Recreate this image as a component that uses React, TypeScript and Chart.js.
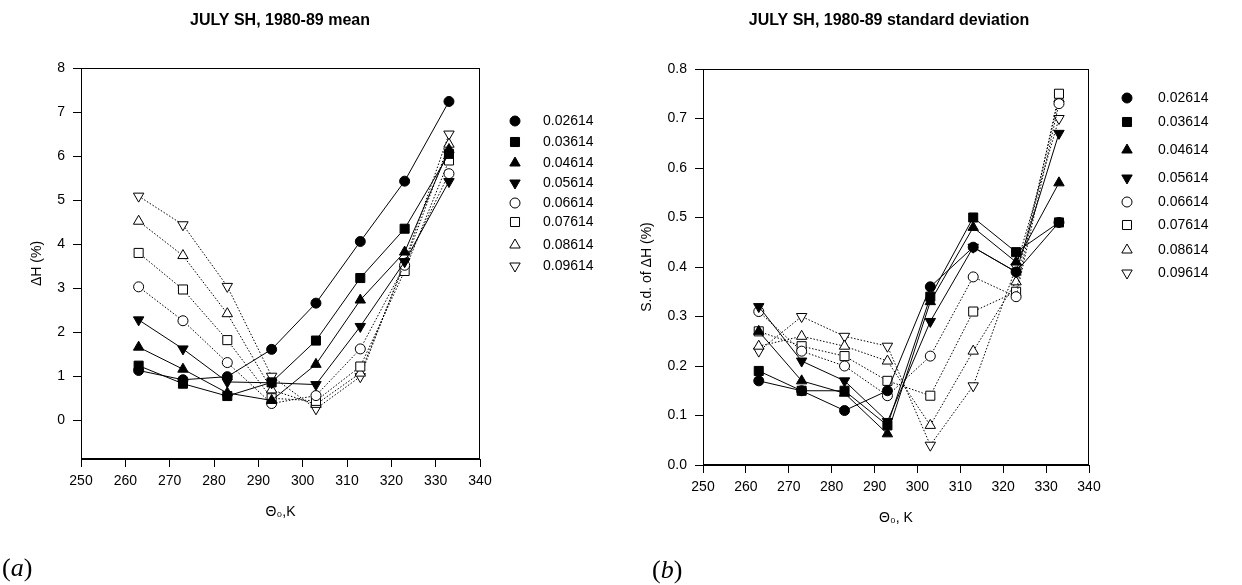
import React, { useEffect, useRef } from 'react';
import { Chart, registerables } from 'chart.js';
Chart.register(...registerables);

const FONT = '"Liberation Sans", Arial, Helvetica, sans-serif';

// ---------- data ----------
const thetaK = [263, 273, 283, 293, 303, 313, 323, 333];
const seriesLabels = ['0.02614', '0.03614', '0.04614', '0.05614', '0.06614', '0.07614', '0.08614', '0.09614'];

// (a) mean ΔH (%)
const mean02614 = [1.13, 0.92, 0.99, 1.61, 2.66, 4.06, 5.43, 7.24];
const mean03614 = [1.24, 0.83, 0.55, 0.86, 1.81, 3.23, 4.35, 6.05];
const mean04614 = [1.66, 1.16, 0.62, 0.45, 1.27, 2.73, 3.82, 6.15];
const mean05614 = [2.28, 1.62, 0.87, 0.85, 0.81, 2.13, 3.6, 5.42];
const mean06614 = [3.03, 2.26, 1.31, 0.38, 0.56, 1.62, 3.52, 5.6];
const mean07614 = [3.8, 2.97, 1.82, 0.5, 0.44, 1.22, 3.39, 5.9];
const mean08614 = [4.52, 3.74, 2.42, 0.69, 0.36, 1.07, 3.55, 6.27];
const mean09614 = [5.09, 4.44, 3.04, 1.0, 0.26, 0.99, 3.6, 6.5];

// (b) standard deviation of ΔH (%)
const sd02614 = [0.17, 0.15, 0.11, 0.15, 0.36, 0.44, 0.39, 0.49];
const sd03614 = [0.19, 0.15, 0.15, 0.08, 0.34, 0.5, 0.43, 0.49];
const sd04614 = [0.27, 0.17, 0.145, 0.063, 0.33, 0.48, 0.41, 0.57];
const sd05614 = [0.32, 0.21, 0.17, 0.088, 0.29, 0.44, 0.39, 0.67];
const sd06614 = [0.31, 0.23, 0.2, 0.14, 0.22, 0.38, 0.34, 0.73];
const sd07614 = [0.27, 0.24, 0.22, 0.17, 0.14, 0.31, 0.35, 0.75];
const sd08614 = [0.24, 0.26, 0.24, 0.21, 0.08, 0.23, 0.37, 0.74];
const sd09614 = [0.23, 0.3, 0.26, 0.24, 0.04, 0.16, 0.4, 0.7];

const meanSeries = [mean02614, mean03614, mean04614, mean05614, mean06614, mean07614, mean08614, mean09614];
const sdSeries = [sd02614, sd03614, sd04614, sd05614, sd06614, sd07614, sd08614, sd09614];

const xTicksMin = 250;
const xTicksMax = 340;

// ---------- styles ----------
type MarkerStyle = { shape: 'circle' | 'rect' | 'triangle'; rotation: number; radius: number; filled: boolean };
const markerStyles: MarkerStyle[] = [
  { shape: 'circle', rotation: 0, radius: 5, filled: true },
  { shape: 'rect', rotation: 0, radius: 6.4, filled: true },
  { shape: 'triangle', rotation: 0, radius: 6, filled: true },
  { shape: 'triangle', rotation: 180, radius: 6, filled: true },
  { shape: 'circle', rotation: 0, radius: 5, filled: false },
  { shape: 'rect', rotation: 0, radius: 6.4, filled: false },
  { shape: 'triangle', rotation: 0, radius: 6, filled: false },
  { shape: 'triangle', rotation: 180, radius: 6, filled: false },
];

function drawMarker(ctx: CanvasRenderingContext2D, st: MarkerStyle, x: number, y: number) {
  const r = st.radius;
  ctx.beginPath();
  if (st.shape === 'circle') {
    ctx.arc(x, y, r, 0, Math.PI * 2);
  } else if (st.shape === 'rect') {
    const s = r * Math.SQRT1_2;
    ctx.rect(x - s, y - s, 2 * s, 2 * s);
  } else {
    let rad = (st.rotation * Math.PI) / 180;
    for (let k = 0; k < 3; k++) {
      const px = x + Math.sin(rad) * r;
      const py = y - Math.cos(rad) * r;
      if (k === 0) ctx.moveTo(px, py);
      else ctx.lineTo(px, py);
      rad += (2 * Math.PI) / 3;
    }
    ctx.closePath();
  }
  ctx.fillStyle = st.filled ? '#000' : '#fff';
  ctx.fill();
  ctx.strokeStyle = '#000';
  ctx.lineWidth = 1;
  ctx.stroke();
}

function makeDatasets(values: number[][]) {
  return values.map((vals, i) => {
    const st = markerStyles[i];
    return {
      label: seriesLabels[i],
      data: thetaK.map((x, j) => ({ x, y: vals[j] })),
      borderColor: '#000',
      borderWidth: 1,
      borderDash: st.filled ? [] : [1.5, 1.8],
      pointStyle: st.shape,
      pointRotation: st.rotation,
      pointRadius: st.radius,
      pointHoverRadius: st.radius,
      pointBackgroundColor: st.filled ? '#000' : '#fff',
      pointBorderColor: '#000',
      pointBorderWidth: 1,
      fill: false,
      tension: 0,
    };
  });
}

type PanelCfg = {
  title: string;
  titleX: number;
  titleY: number;
  legendMarkerX: number;
  legendTextX: number;
  legendY: number[];
  xTitle: string;
  yTitle: string;
  yMin: number;
  yMax: number;
  yStep: number;
  yDecimals: number;
  padding: { left: number; right: number; top: number; bottom: number };
  yWidth: number;
  xHeight: number;
  yTitlePad: number;
  xTitlePad: number;
};

function buildChart(canvas: HTMLCanvasElement, values: number[][], cfg: PanelCfg) {
  const deco = {
    id: 'deco',
    afterDraw(chart: any) {
      const { ctx, chartArea: a } = chart;
      ctx.save();
      ctx.strokeStyle = '#000';
      ctx.lineWidth = 1;
      ctx.strokeRect(Math.round(a.left) + 0.5, Math.round(a.top) + 0.5, Math.round(a.right - a.left) - 1, Math.round(a.bottom - a.top) - 1);
      ctx.fillStyle = '#000';
      ctx.font = `bold 16px ${FONT}`;
      ctx.textAlign = 'center';
      ctx.textBaseline = 'middle';
      ctx.fillText(cfg.title, cfg.titleX, cfg.titleY);
      ctx.font = `14px ${FONT}`;
      ctx.textAlign = 'left';
      seriesLabels.forEach((lab, i) => {
        drawMarker(ctx, markerStyles[i], cfg.legendMarkerX, cfg.legendY[i]);
        ctx.fillStyle = '#000';
        ctx.fillText(lab, cfg.legendTextX, cfg.legendY[i]);
      });
      ctx.restore();
    },
  };

  return new Chart(canvas, {
    type: 'line',
    data: { datasets: makeDatasets(values) as any },
    plugins: [deco],
    options: {
      animation: false,
      responsive: false,
      events: [],
      layout: { padding: cfg.padding },
      plugins: { legend: { display: false }, title: { display: false }, tooltip: { enabled: false } },
      scales: {
        x: {
          type: 'linear',
          min: xTicksMin,
          max: xTicksMax,
          ticks: { stepSize: 10, color: '#000', font: { family: FONT, size: 14 }, padding: 6, maxRotation: 0, autoSkip: false },
          grid: { drawOnChartArea: false, tickLength: 8, color: '#000', lineWidth: 1 },
          border: { color: '#000', width: 1 },
          title: { display: true, text: cfg.xTitle, color: '#000', font: { family: FONT, size: 14 }, padding: { top: 0, bottom: cfg.xTitlePad } },
          afterFit: (s: any) => {
            s.height = cfg.xHeight;
          },
        },
        y: {
          type: 'linear',
          min: cfg.yMin,
          max: cfg.yMax,
          ticks: {
            stepSize: cfg.yStep,
            color: '#000',
            font: { family: FONT, size: 14 },
            padding: 8,
            autoSkip: false,
            callback: (v: any) => Number(v).toFixed(cfg.yDecimals),
          },
          afterBuildTicks: (s: any) => {
            s.ticks = s.ticks.filter((t: any) => t.value >= 0);
          },
          grid: { drawOnChartArea: false, tickLength: 8, color: '#000', lineWidth: 1 },
          border: { color: '#000', width: 1 },
          title: { display: true, text: cfg.yTitle, color: '#000', font: { family: FONT, size: 14 }, padding: { top: cfg.yTitlePad, bottom: 0 } },
          afterFit: (s: any) => {
            s.width = cfg.yWidth;
          },
        },
      },
    } as any,
  });
}

const CANVAS_W = 621;
const CANVAS_H = 585;

const cfgA: PanelCfg = {
  title: 'JULY SH, 1980-89 mean',
  titleX: 280,
  titleY: 21,
  legendMarkerX: 515,
  legendTextX: 543,
  legendY: [121, 142, 163, 183, 203, 222, 245, 266],
  xTitle: 'Θ\u2080,K',
  yTitle: 'ΔH (%)',
  yMin: -0.88,
  yMax: 8,
  yStep: 1,
  yDecimals: 0,
  padding: { left: 0, right: CANVAS_W - 480, top: 68, bottom: 0 },
  yWidth: 81,
  xHeight: CANVAS_H - 459,
  yTitlePad: 28.6,
  xTitlePad: 64.6,
};

const cfgB: PanelCfg = {
  title: 'JULY SH, 1980-89 standard deviation',
  titleX: 268,
  titleY: 21,
  legendMarkerX: 506,
  legendTextX: 537,
  legendY: [98, 122, 150, 178, 202, 225, 250, 273],
  xTitle: 'Θ\u2080, K',
  yTitle: 'S.d. of ΔH (%)',
  yMin: 0,
  yMax: 0.8,
  yStep: 0.1,
  yDecimals: 1,
  padding: { left: 0, right: CANVAS_W - 468, top: 69, bottom: 0 },
  yWidth: 82,
  xHeight: CANVAS_H - 465,
  yTitlePad: 17.3,
  xTitlePad: 58.6,
};

function Panel({ values, cfg, left }: { values: number[][]; cfg: PanelCfg; left: number }) {
  const ref = useRef<HTMLCanvasElement>(null);
  useEffect(() => {
    if (!ref.current) return;
    const chart = buildChart(ref.current, values, cfg);
    return () => chart.destroy();
  }, []);
  return (
    <canvas
      ref={ref}
      width={CANVAS_W}
      height={CANVAS_H}
      style={{ position: 'absolute', left, top: 0, width: CANVAS_W, height: CANVAS_H }}
    />
  );
}

const labelStyle: React.CSSProperties = {
  position: 'absolute',
  fontFamily: '"Liberation Serif", "Times New Roman", serif',
  fontSize: 26,
  lineHeight: '26px',
  color: '#000',
};

export default function App() {
  return (
    <div style={{ position: 'relative', width: 1242, height: 585, overflow: 'hidden', background: '#fff' }}>
      <style>{`body{margin:0;background:#fff}`}</style>
      <Panel values={meanSeries} cfg={cfgA} left={0} />
      <Panel values={sdSeries} cfg={cfgB} left={621} />
      <div style={{ ...labelStyle, left: 2, top: 555 }}>
        (<i>a</i>)
      </div>
      <div style={{ ...labelStyle, left: 652, top: 557 }}>
        (<i>b</i>)
      </div>
    </div>
  );
}
